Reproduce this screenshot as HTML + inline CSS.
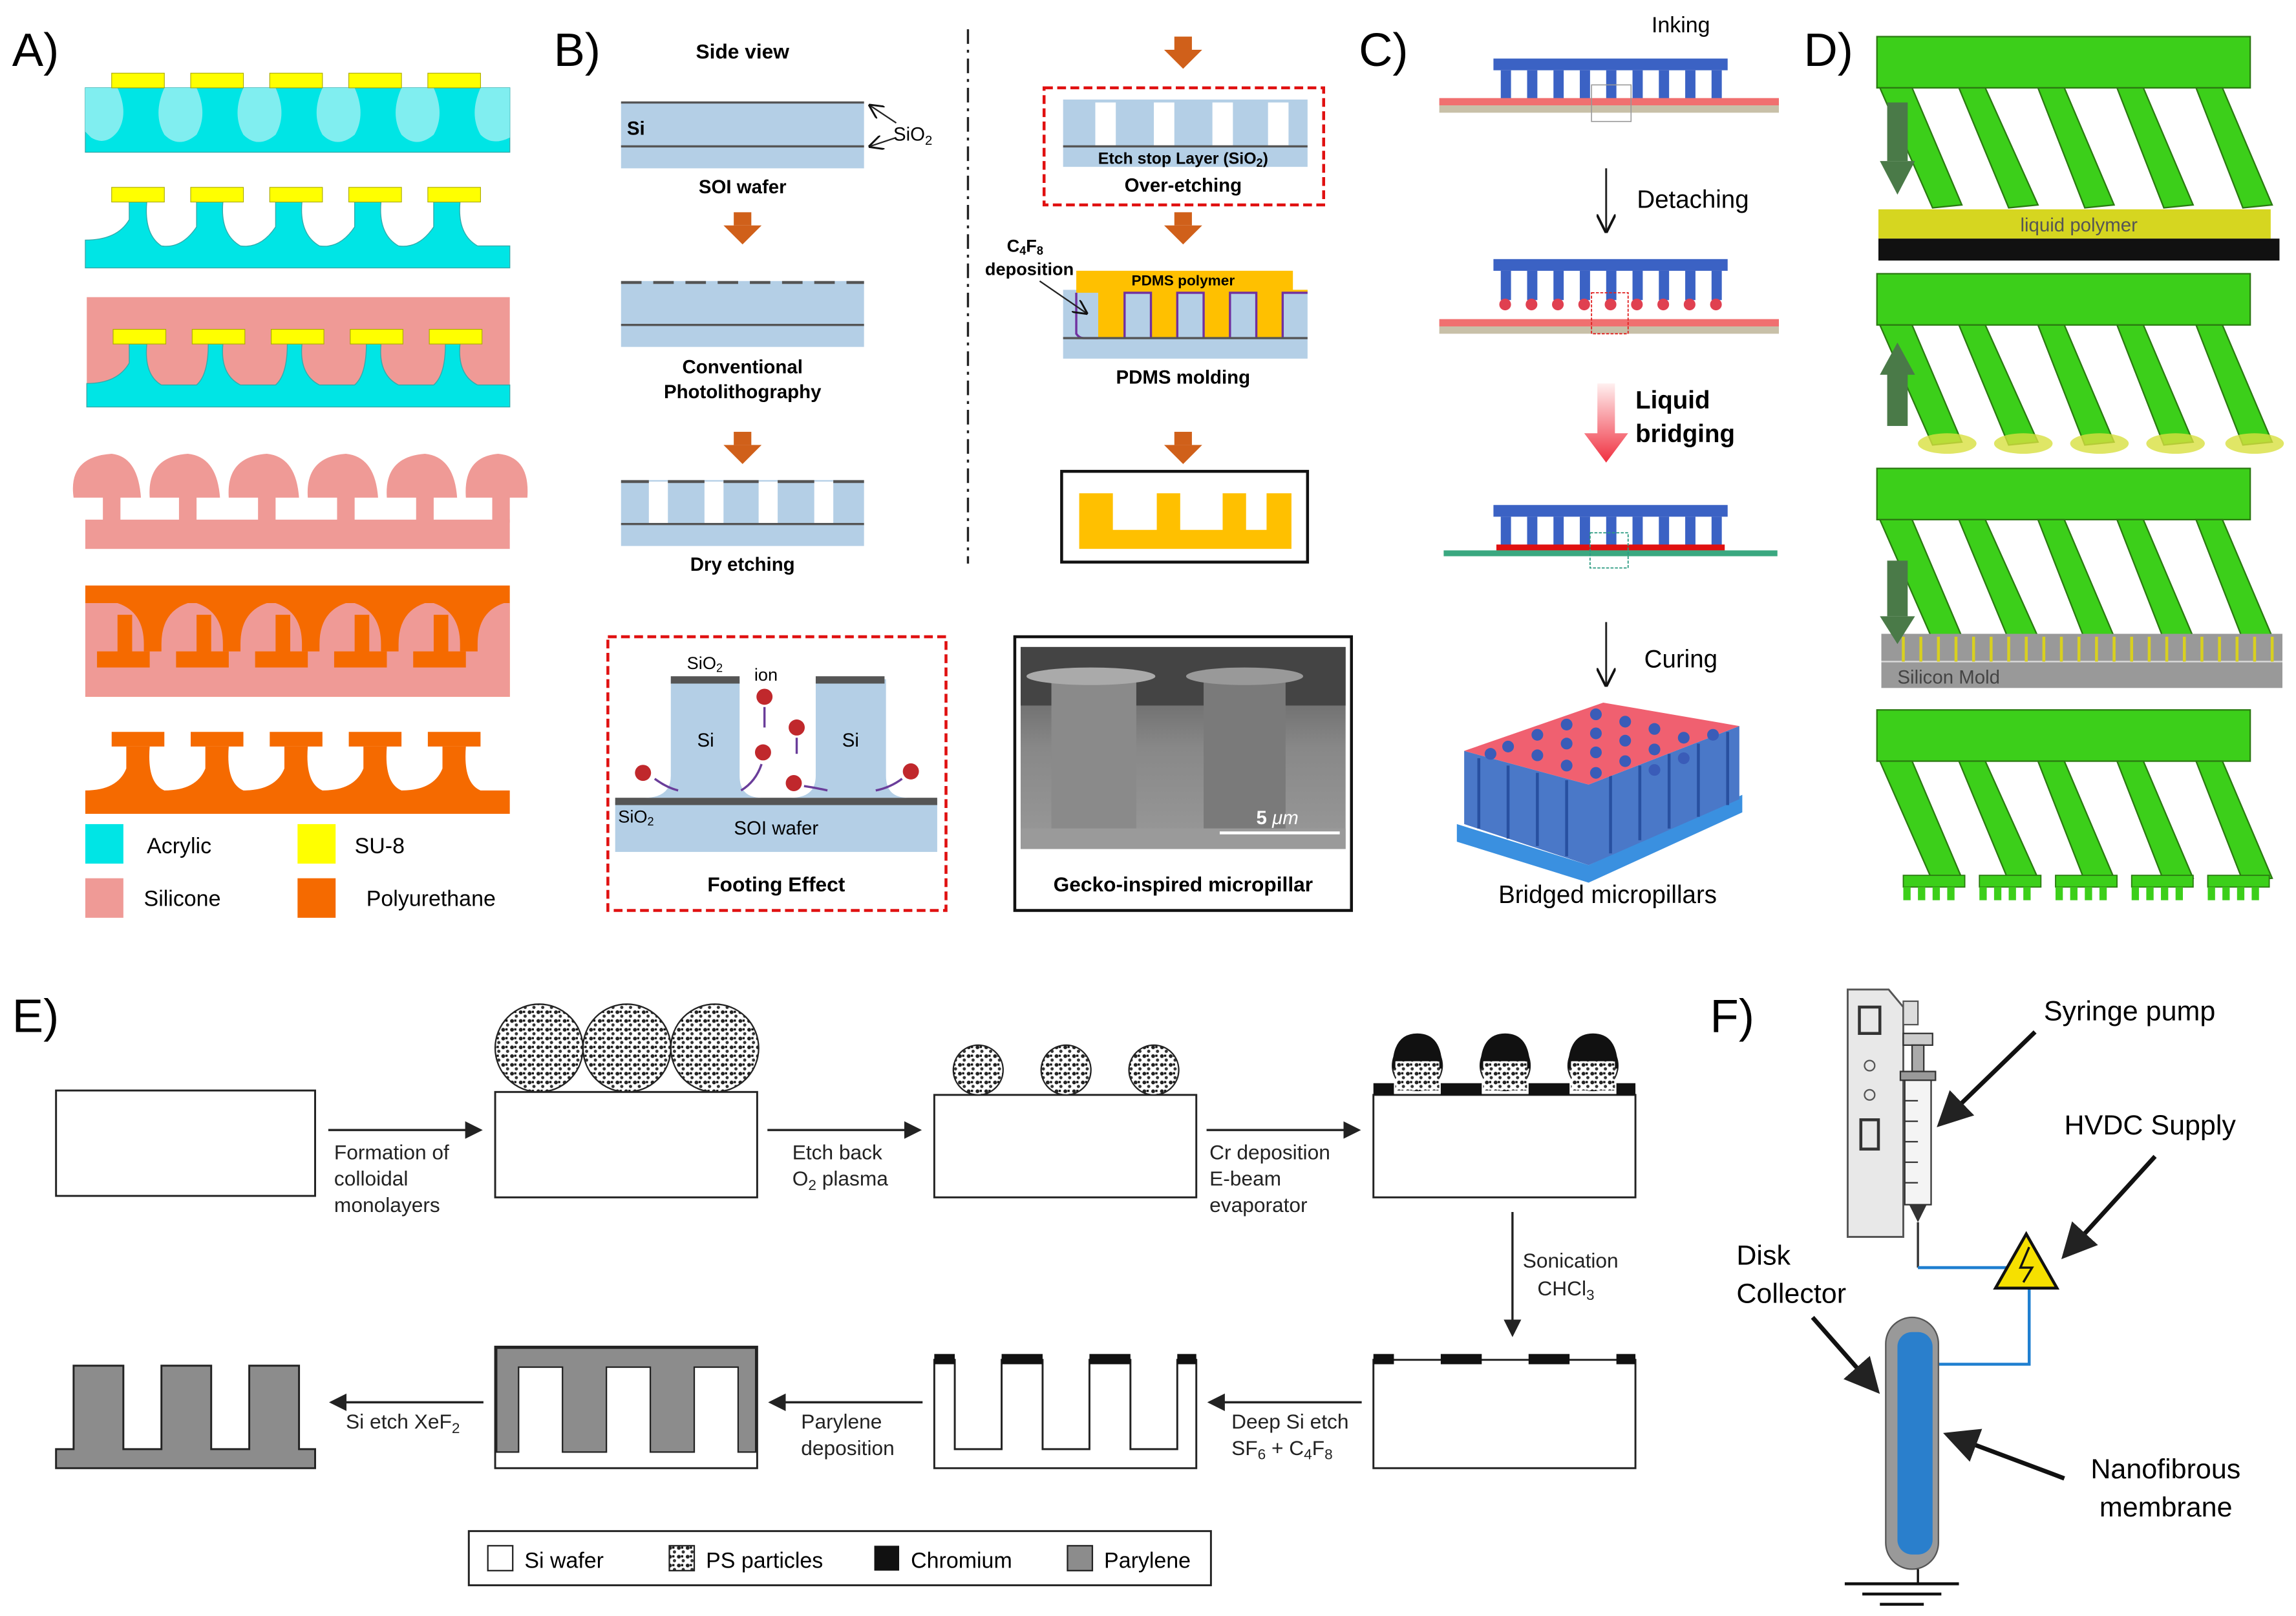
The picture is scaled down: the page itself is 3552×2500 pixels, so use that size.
<!DOCTYPE html>
<html><head><meta charset="utf-8"><style>
html,body{margin:0;padding:0;background:#fff;}
svg{display:block;}
text{font-family:"Liberation Sans",Arial,sans-serif;}
</style></head><body>
<svg width="3552" height="2500" viewBox="0 0 1568 1104" xmlns="http://www.w3.org/2000/svg">
<defs>
<pattern id="dots" width="6" height="6" patternUnits="userSpaceOnUse">
<rect width="6" height="6" fill="#fff"/><circle cx="1.5" cy="1.5" r="1.3" fill="#222"/><circle cx="4.5" cy="4.2" r="1.1" fill="#333"/><rect x="3" y="0.5" width="1.5" height="1.5" fill="#111"/>
</pattern>
<linearGradient id="redg" x1="0" y1="0" x2="0" y2="1"><stop offset="0" stop-color="#fff0f0"/><stop offset="1" stop-color="#f03040"/></linearGradient>
<linearGradient id="sem" x1="0" y1="0" x2="0" y2="1"><stop offset="0" stop-color="#555"/><stop offset="0.5" stop-color="#888"/><stop offset="1" stop-color="#999"/></linearGradient>
<marker id="ah" markerWidth="8" markerHeight="8" refX="7" refY="4" orient="auto"><path d="M0,0 L8,4 L0,8 z" fill="#222"/></marker>
<marker id="ao" markerWidth="10" markerHeight="10" refX="9" refY="5" orient="auto"><path d="M0,0 L10,5 L0,10" fill="none" stroke="#111" stroke-width="1.3"/></marker>
<g id="oarrow"><rect x="-6" y="-10" width="12" height="9" fill="#d0601a"/><path d="M-13,-1 L13,-1 L0,12 z" fill="#d0601a"/></g>
</defs>

<!-- ================= A ================= -->
<text x="8" y="45" font-size="32">A)</text>
<rect x="58" y="60" width="290" height="44" fill="#00e5e5" stroke="#3aa" stroke-width="0.6"/>
<g fill="#80eef0">
<path d="M80,60 Q88,78 80,90 Q72,100 62,94 L58,90 L58,60 z"/>
<path d="M112,60 Q104,78 112,92 Q122,102 134,92 Q142,78 134,60 z"/>
<path d="M166,60 Q158,78 166,92 Q176,102 188,92 Q196,78 188,60 z"/>
<path d="M220,60 Q212,78 220,92 Q230,102 242,92 Q250,78 242,60 z"/>
<path d="M274,60 Q266,78 274,92 Q284,102 296,92 Q304,78 296,60 z"/>
<path d="M328,60 Q320,78 328,92 Q336,100 348,94 L348,60 z"/>
</g>
<g fill="#ffff00" stroke="#aa0" stroke-width="0.5">
<rect x="76" y="50" width="36" height="10"/><rect x="130" y="50" width="36" height="10"/><rect x="184" y="50" width="36" height="10"/><rect x="238" y="50" width="36" height="10"/><rect x="292" y="50" width="36" height="10"/>
</g>
<path d="M58,183 L58,164 Q80,164 88,150 L88,138 L100,138 Q98,160 110,168 Q124,170 134,155 L134,138 L152,138 Q150,160 164,168 Q178,170 188,155 L188,138 L206,138 Q204,160 218,168 Q232,170 242,155 L242,138 L260,138 Q258,160 272,168 Q286,170 296,155 L296,138 L314,138 Q312,160 326,168 L348,168 L348,183 z" fill="#00e5e5" stroke="#3aa" stroke-width="0.6"/>
<g fill="#ffff00" stroke="#aa0" stroke-width="0.5">
<rect x="76" y="128" width="36" height="10"/><rect x="130" y="128" width="36" height="10"/><rect x="184" y="128" width="36" height="10"/><rect x="238" y="128" width="36" height="10"/><rect x="292" y="128" width="36" height="10"/>
</g>
<rect x="59" y="203" width="289" height="75" fill="#ef9a96"/>
<path d="M59,278 L59,262 Q80,262 88,248 L88,235 L100,235 Q98,256 110,263 L134,263 Q142,256 142,235 L152,235 Q150,256 164,263 L188,263 Q196,256 196,235 L206,235 Q204,256 218,263 L242,263 Q250,256 250,235 L260,235 Q258,256 272,263 L296,263 Q304,256 304,235 L314,235 Q312,256 326,263 L348,263 L348,278 z" fill="#00e5e5" stroke="#3aa" stroke-width="0.6"/>
<g fill="#ffff00" stroke="#aa0" stroke-width="0.5">
<rect x="77" y="225" width="36" height="10"/><rect x="131" y="225" width="36" height="10"/><rect x="185" y="225" width="36" height="10"/><rect x="239" y="225" width="36" height="10"/><rect x="293" y="225" width="36" height="10"/>
</g>
<g fill="#ef9a96">
<rect x="58" y="355" width="290" height="20"/>
<rect x="70" y="335" width="12" height="22"/><rect x="122" y="335" width="12" height="22"/><rect x="176" y="335" width="12" height="22"/><rect x="230" y="335" width="12" height="22"/><rect x="284" y="335" width="12" height="22"/><rect x="336" y="335" width="12" height="22"/>
<path d="M50,340 Q46,312 76,310 Q94,312 96,340 z"/>
<path d="M102,340 Q100,312 128,310 Q148,312 150,340 z"/>
<path d="M156,340 Q154,312 182,310 Q202,312 204,340 z"/>
<path d="M210,340 Q208,312 236,310 Q256,312 258,340 z"/>
<path d="M264,340 Q262,312 290,310 Q310,312 312,340 z"/>
<path d="M318,340 Q316,312 340,310 Q362,312 360,340 z"/>
</g>
<rect x="58" y="400" width="290" height="76" fill="#f56a00"/>
<path d="M58,412 L80,412 Q98,418 98,440 L98,445 L110,445 L110,440 Q110,418 128,412 L134,412 Q152,418 152,440 L152,445 L164,445 L164,440 Q164,418 182,412 L188,412 Q206,418 206,440 L206,445 L218,445 L218,440 Q218,418 236,412 L242,412 Q260,418 260,440 L260,445 L272,445 L272,440 Q272,418 290,412 L296,412 Q314,418 314,440 L314,445 L326,445 L326,440 Q326,418 344,412 L348,412 L348,476 L58,476 z" fill="#ef9a96"/>
<g fill="#f56a00"><rect x="66" y="445" width="36" height="11"/><rect x="120" y="445" width="36" height="11"/><rect x="174" y="445" width="36" height="11"/><rect x="228" y="445" width="36" height="11"/><rect x="282" y="445" width="36" height="11"/>
<rect x="80" y="420" width="10" height="28"/><rect x="134" y="420" width="10" height="28"/><rect x="188" y="420" width="10" height="28"/><rect x="242" y="420" width="10" height="28"/><rect x="296" y="420" width="10" height="28"/></g>
<path d="M58,556 L58,540 Q80,540 86,525 L86,510 L102,510 Q100,535 112,540 Q134,540 140,525 L140,510 L156,510 Q154,535 166,540 Q188,540 194,525 L194,510 L210,510 Q208,535 220,540 Q242,540 248,525 L248,510 L264,510 Q262,535 274,540 Q296,540 302,525 L302,510 L318,510 Q316,535 328,540 L348,540 L348,556 z" fill="#f56a00"/>
<g fill="#f56a00"><rect x="76" y="500" width="36" height="10"/><rect x="130" y="500" width="36" height="10"/><rect x="184" y="500" width="36" height="10"/><rect x="238" y="500" width="36" height="10"/><rect x="292" y="500" width="36" height="10"/></g>
<rect x="58" y="563" width="26" height="27" fill="#00e5e5"/><text x="100" y="583" font-size="15">Acrylic</text>
<rect x="203" y="563" width="26" height="27" fill="#ffff00"/><text x="242" y="583" font-size="15">SU-8</text>
<rect x="58" y="600" width="26" height="27" fill="#ef9a96"/><text x="98" y="619" font-size="15">Silicone</text>
<rect x="203" y="600" width="26" height="27" fill="#f56a00"/><text x="250" y="619" font-size="15">Polyurethane</text>

<!-- ================= B ================= -->
<text x="378" y="45" font-size="32">B)</text>
<text x="507" y="40" font-size="14" font-weight="bold" text-anchor="middle">Side view</text>
<rect x="424" y="70" width="166" height="45" fill="#b4cfe6"/>
<line x1="424" y1="70" x2="590" y2="70" stroke="#555" stroke-width="1.5"/>
<line x1="424" y1="100" x2="590" y2="100" stroke="#555" stroke-width="1.5"/>
<text x="428" y="92" font-size="13" font-weight="bold">Si</text>
<text x="610" y="96" font-size="13">SiO<tspan font-size="9" dy="3">2</tspan></text>
<line x1="612" y1="84" x2="594" y2="72" stroke="#222" marker-end="url(#ao)"/>
<line x1="612" y1="94" x2="594" y2="100" stroke="#222" marker-end="url(#ao)"/>
<text x="507" y="132" font-size="13" font-weight="bold" text-anchor="middle">SOI wafer</text>
<use href="#oarrow" x="507" y="155"/>
<rect x="424" y="192" width="166" height="45" fill="#b4cfe6"/>
<line x1="424" y1="222" x2="590" y2="222" stroke="#555" stroke-width="1.5"/>
<line x1="424" y1="193" x2="590" y2="193" stroke="#555" stroke-width="2" stroke-dasharray="14,8"/>
<text x="507" y="255" font-size="13" font-weight="bold" text-anchor="middle">Conventional</text>
<text x="507" y="272" font-size="13" font-weight="bold" text-anchor="middle">Photolithography</text>
<use href="#oarrow" x="507" y="305"/>
<rect x="424" y="328" width="166" height="45" fill="#b4cfe6"/>
<g fill="#fff"><rect x="443" y="329" width="13" height="29"/><rect x="481" y="329" width="13" height="29"/><rect x="518" y="329" width="13" height="29"/><rect x="556" y="329" width="13" height="29"/></g>
<line x1="424" y1="358" x2="590" y2="358" stroke="#555" stroke-width="1.5"/>
<g stroke="#555" stroke-width="2"><line x1="424" y1="329" x2="443" y2="329"/><line x1="456" y1="329" x2="481" y2="329"/><line x1="494" y1="329" x2="518" y2="329"/><line x1="531" y1="329" x2="556" y2="329"/><line x1="569" y1="329" x2="590" y2="329"/></g>
<text x="507" y="390" font-size="13" font-weight="bold" text-anchor="middle">Dry etching</text>
<line x1="661" y1="20" x2="661" y2="385" stroke="#222" stroke-width="1.5" stroke-dasharray="10,4,2,4"/>
<use href="#oarrow" x="808" y="35"/>
<rect x="713" y="60" width="191" height="80" fill="none" stroke="#e01010" stroke-width="2" stroke-dasharray="6,3"/>
<rect x="726" y="68" width="167" height="46" fill="#b4cfe6"/>
<g fill="#fff"><rect x="748" y="70" width="14" height="30"/><rect x="788" y="70" width="14" height="30"/><rect x="828" y="70" width="14" height="30"/><rect x="866" y="70" width="14" height="30"/></g>
<line x1="726" y1="100" x2="893" y2="100" stroke="#555" stroke-width="1.5"/>
<text x="808" y="112" font-size="11" font-weight="bold" text-anchor="middle">Etch stop Layer (SiO<tspan font-size="8" dy="2">2</tspan><tspan dy="-2">)</tspan></text>
<text x="808" y="131" font-size="13" font-weight="bold" text-anchor="middle">Over-etching</text>
<use href="#oarrow" x="808" y="155"/>
<rect x="726" y="198" width="167" height="47" fill="#b4cfe6"/>
<path d="M735,185 L883,185 L883,198 L893,198 L893,200 L876,200 L876,228 Q876,231 872,231 L858,231 L858,200 L840,200 L840,228 Q840,231 836,231 L822,231 L822,200 L804,200 L804,228 Q804,231 800,231 L786,231 L786,200 L768,200 L768,228 Q768,231 764,231 L750,231 L750,200 L735,200 z" fill="#ffc000"/>
<path d="M735,200 L735,228 Q737,231 740,231 L750,231 M768,231 L768,200 L786,200 L786,231 M804,231 L804,200 L822,200 L822,231 M840,231 L840,200 L858,200 L858,231 M876,231 L876,200 L893,200" fill="none" stroke="#7030a0" stroke-width="1.5"/>
<line x1="726" y1="231" x2="893" y2="231" stroke="#555" stroke-width="1.5"/>
<text x="808" y="195" font-size="10" font-weight="bold" text-anchor="middle">PDMS polymer</text>
<text x="700" y="172" font-size="12" font-weight="bold" text-anchor="middle">C<tspan font-size="8" dy="2">4</tspan><tspan dy="-2">F</tspan><tspan font-size="8" dy="2">8</tspan></text>
<text x="703" y="188" font-size="12" font-weight="bold" text-anchor="middle">deposition</text>
<line x1="710" y1="192" x2="742" y2="214" stroke="#222" marker-end="url(#ao)"/>
<text x="808" y="262" font-size="13" font-weight="bold" text-anchor="middle">PDMS molding</text>
<use href="#oarrow" x="808" y="305"/>
<rect x="725" y="322" width="168" height="62" fill="none" stroke="#111" stroke-width="2"/>
<path d="M737,337 L760,337 L760,362 L790,362 L790,337 L806,337 L806,362 L835,362 L835,337 L851,337 L851,362 L865,362 L865,337 L882,337 L882,375 L737,375 z" fill="#ffc000"/>
<rect x="415" y="435" width="231" height="187" fill="none" stroke="#e01010" stroke-width="2" stroke-dasharray="6,3"/>
<rect x="420" y="548" width="220" height="34" fill="#b4cfe6"/>
<rect x="420" y="545" width="220" height="5" fill="#555"/>
<path d="M458,464 L505,464 L505,530 Q505,545 520,545 L440,545 Q458,545 458,530 z" fill="#b4cfe6"/>
<path d="M557,464 L605,464 L605,530 Q605,545 620,545 L540,545 Q557,545 557,530 z" fill="#b4cfe6"/>
<rect x="458" y="462" width="47" height="5" fill="#555"/><rect x="557" y="462" width="47" height="5" fill="#555"/>
<text x="469" y="457" font-size="12">SiO<tspan font-size="8" dy="2">2</tspan></text>
<text x="515" y="465" font-size="12">ion</text>
<text x="476" y="510" font-size="13">Si</text><text x="575" y="510" font-size="13">Si</text>
<text x="422" y="562" font-size="12">SiO<tspan font-size="8" dy="2">2</tspan></text>
<text x="530" y="570" font-size="13" text-anchor="middle">SOI wafer</text>
<g fill="#c0282c"><circle cx="522" cy="476" r="5.5"/><circle cx="544" cy="497" r="5.5"/><circle cx="521" cy="514" r="5.5"/><circle cx="542" cy="535" r="5.5"/><circle cx="439" cy="528" r="5.5"/><circle cx="622" cy="527" r="5.5"/></g>
<g stroke="#6a3d9a" stroke-width="1.5" fill="none"><line x1="522" y1="483" x2="522" y2="497"/><line x1="544" y1="504" x2="544" y2="515"/><path d="M447,532 Q455,538 463,540"/><path d="M520,522 Q516,534 506,540"/><path d="M549,537 Q556,538 565,540"/><path d="M616,532 Q608,538 598,540"/></g>
<text x="530" y="609" font-size="14" font-weight="bold" text-anchor="middle">Footing Effect</text>
<rect x="693" y="435" width="230" height="187" fill="none" stroke="#111" stroke-width="2"/>
<rect x="697" y="442" width="222" height="138" fill="url(#sem)"/>
<rect x="697" y="442" width="222" height="40" fill="#444"/>
<rect x="718" y="464" width="58" height="102" fill="#8a8a8a"/>
<rect x="822" y="464" width="56" height="102" fill="#7a7a7a"/>
<ellipse cx="745" cy="462" rx="44" ry="6" fill="#aaa"/><ellipse cx="850" cy="462" rx="40" ry="6" fill="#999"/>
<rect x="697" y="566" width="222" height="14" fill="#9a9a9a"/>
<line x1="833" y1="569" x2="915" y2="569" stroke="#fff" stroke-width="2"/>
<text x="858" y="563" font-size="13" fill="#fff" font-weight="bold">5 <tspan font-style="italic" font-weight="normal">μm</tspan></text>
<text x="808" y="609" font-size="14" font-weight="bold" text-anchor="middle">Gecko-inspired micropillar</text>

<!-- ================= C ================= -->
<text x="928" y="45" font-size="32">C)</text>
<text x="1148" y="22" font-size="15" text-anchor="middle">Inking</text>
<g id="stamp1">
<rect x="1020" y="40" width="160" height="8" fill="#3b62c4"/>
<g fill="#3b62c4"><rect x="1025" y="48" width="7" height="20"/><rect x="1043" y="48" width="7" height="20"/><rect x="1061" y="48" width="7" height="20"/><rect x="1079" y="48" width="7" height="20"/><rect x="1097" y="48" width="7" height="20"/><rect x="1115" y="48" width="7" height="20"/><rect x="1133" y="48" width="7" height="20"/><rect x="1151" y="48" width="7" height="20"/><rect x="1169" y="48" width="7" height="20"/></g>
</g>
<rect x="983" y="67" width="232" height="5" fill="#f07070"/><rect x="983" y="72" width="232" height="5" fill="#c8c0a8"/>
<rect x="1087" y="58" width="27" height="25" fill="none" stroke="#999" stroke-width="0.7"/>
<line x1="1097" y1="115" x2="1097" y2="158" stroke="#222" stroke-width="1.3" marker-end="url(#ao)"/>
<text x="1118" y="142" font-size="17">Detaching</text>
<use href="#stamp1" y="137"/>
<g fill="#e04050"><circle cx="1028" cy="208" r="4"/><circle cx="1046" cy="208" r="4"/><circle cx="1064" cy="208" r="4"/><circle cx="1082" cy="208" r="4"/><circle cx="1100" cy="208" r="4"/><circle cx="1118" cy="208" r="4"/><circle cx="1136" cy="208" r="4"/><circle cx="1154" cy="208" r="4"/><circle cx="1172" cy="208" r="4"/></g>
<rect x="983" y="218" width="232" height="5" fill="#f07070"/><rect x="983" y="223" width="232" height="5" fill="#c8c0a8"/>
<rect x="1087" y="200" width="25" height="28" fill="none" stroke="#e02020" stroke-width="0.8" stroke-dasharray="2,1"/>
<path d="M1091,262 L1103,262 L1103,296 L1112,296 L1097,316 L1082,296 L1091,296 z" fill="url(#redg)"/>
<text x="1117" y="279" font-size="17" font-weight="bold">Liquid</text>
<text x="1117" y="302" font-size="17" font-weight="bold">bridging</text>
<use href="#stamp1" y="305"/>
<rect x="1022" y="372" width="156" height="4" fill="#e01010"/>
<rect x="986" y="376" width="228" height="4" fill="#3aa880"/>
<rect x="1086" y="364" width="26" height="24" fill="none" stroke="#2a9a80" stroke-width="0.8" stroke-dasharray="2,1"/>
<line x1="1097" y1="425" x2="1097" y2="468" stroke="#222" stroke-width="1.3" marker-end="url(#ao)"/>
<text x="1123" y="456" font-size="17">Curing</text>
<g transform="translate(0,18)">
<path d="M995,545 L1085,573 L1190,525 L1190,537 L1085,585 L995,557 z" fill="#3a90e0"/>
<path d="M1000,495 L1085,518 L1188,478 L1188,528 L1085,573 L1000,545 z" fill="#4a78c8"/>
<g stroke="#2850a0" stroke-width="2"><line x1="1010" y1="500" x2="1010" y2="548"/><line x1="1030" y1="505" x2="1030" y2="555"/><line x1="1050" y1="510" x2="1050" y2="560"/><line x1="1070" y1="515" x2="1070" y2="567"/><line x1="1100" y1="512" x2="1100" y2="565"/><line x1="1120" y1="505" x2="1120" y2="556"/><line x1="1140" y1="497" x2="1140" y2="548"/><line x1="1160" y1="490" x2="1160" y2="540"/><line x1="1180" y1="482" x2="1180" y2="532"/></g>
<path d="M1000,495 L1095,462 L1188,478 L1085,518 z" fill="#f06070"/>
<g fill="#3a5cb8">
<circle cx="1030" cy="492" r="4"/><circle cx="1050" cy="484" r="4"/><circle cx="1070" cy="477" r="4"/><circle cx="1090" cy="470" r="4"/>
<circle cx="1050" cy="498" r="4"/><circle cx="1070" cy="490" r="4"/><circle cx="1090" cy="483" r="4"/><circle cx="1110" cy="475" r="4"/>
<circle cx="1070" cy="505" r="4"/><circle cx="1090" cy="496" r="4"/><circle cx="1110" cy="488" r="4"/><circle cx="1130" cy="480" r="4"/>
<circle cx="1090" cy="510" r="4"/><circle cx="1110" cy="502" r="4"/><circle cx="1130" cy="494" r="4"/><circle cx="1150" cy="486" r="4"/>
<circle cx="1130" cy="508" r="4"/><circle cx="1150" cy="500" r="4"/><circle cx="1170" cy="484" r="4"/><circle cx="1018" cy="497" r="4"/>
</g>
</g>
<text x="1098" y="617" font-size="17" text-anchor="middle">Bridged micropillars</text>

<!-- ================= D ================= -->
<text x="1232" y="45" font-size="32">D)</text>
<g id="dpanel">
<rect x="1282" y="25" width="255" height="35" fill="#3ccf1a" stroke="#2a7a10" stroke-width="1"/>
<g fill="#3ccf1a" stroke="#2a7a10" stroke-width="1">
<path d="M1284,60 L1306,60 L1340,140 L1320,142 z"/>
<path d="M1338,60 L1356,60 L1392,140 L1372,142 z"/>
<path d="M1392,60 L1410,60 L1444,140 L1424,142 z"/>
<path d="M1446,60 L1464,60 L1498,140 L1478,142 z"/>
<path d="M1500,60 L1518,60 L1552,140 L1532,142 z"/>
</g>
</g>
<rect x="1289" y="70" width="14" height="40" fill="#4a7a48"/><path d="M1284,110 L1308,110 L1296,133 z" fill="#4a7a48"/>
<rect x="1283" y="143" width="268" height="20" fill="#d6d620"/>
<text x="1420" y="158" font-size="13" fill="#555" text-anchor="middle">liquid polymer</text>
<rect x="1283" y="163" width="274" height="15" fill="#111"/>
<use href="#dpanel" y="162"/>
<g fill="#d8e040" opacity="0.8"><ellipse cx="1330" cy="303" rx="20" ry="7"/><ellipse cx="1382" cy="303" rx="20" ry="7"/><ellipse cx="1434" cy="303" rx="20" ry="7"/><ellipse cx="1486" cy="303" rx="20" ry="7"/><ellipse cx="1540" cy="303" rx="20" ry="7"/></g>
<rect x="1289" y="255" width="14" height="36" fill="#4a7a48"/><path d="M1284,256 L1308,256 L1296,234 z" fill="#4a7a48"/>
<use href="#dpanel" y="295"/>
<rect x="1285" y="433" width="274" height="37" fill="#999"/>
<line x1="1285" y1="452" x2="1559" y2="452" stroke="#ddd"/>
<g stroke="#d8d020" stroke-width="2">
<line x1="1300" y1="435" x2="1300" y2="452"/><line x1="1312" y1="435" x2="1312" y2="452"/><line x1="1324" y1="435" x2="1324" y2="452"/><line x1="1336" y1="435" x2="1336" y2="452"/><line x1="1348" y1="435" x2="1348" y2="452"/><line x1="1360" y1="435" x2="1360" y2="452"/><line x1="1372" y1="435" x2="1372" y2="452"/><line x1="1384" y1="435" x2="1384" y2="452"/><line x1="1396" y1="435" x2="1396" y2="452"/><line x1="1408" y1="435" x2="1408" y2="452"/><line x1="1420" y1="435" x2="1420" y2="452"/><line x1="1432" y1="435" x2="1432" y2="452"/><line x1="1444" y1="435" x2="1444" y2="452"/><line x1="1456" y1="435" x2="1456" y2="452"/><line x1="1468" y1="435" x2="1468" y2="452"/><line x1="1480" y1="435" x2="1480" y2="452"/><line x1="1492" y1="435" x2="1492" y2="452"/><line x1="1504" y1="435" x2="1504" y2="452"/><line x1="1516" y1="435" x2="1516" y2="452"/><line x1="1528" y1="435" x2="1528" y2="452"/><line x1="1540" y1="435" x2="1540" y2="452"/><line x1="1552" y1="435" x2="1552" y2="452"/>
</g>
<text x="1296" y="467" font-size="13" fill="#444">Silicon Mold</text>
<rect x="1289" y="383" width="14" height="38" fill="#4a7a48"/><path d="M1284,421 L1308,421 L1296,440 z" fill="#4a7a48"/>
<use href="#dpanel" y="460"/>
<g fill="#3ccf1a" stroke="#2a7a10" stroke-width="0.8"><rect x="1300" y="598" width="42" height="8"/><rect x="1352" y="598" width="42" height="8"/><rect x="1404" y="598" width="42" height="8"/><rect x="1456" y="598" width="42" height="8"/><rect x="1508" y="598" width="42" height="8"/></g>
<g fill="#3ccf1a"><rect x="1300" y="606" width="5" height="9"/><rect x="1310" y="606" width="5" height="9"/><rect x="1320" y="606" width="5" height="9"/><rect x="1330" y="606" width="5" height="9"/><rect x="1352" y="606" width="5" height="9"/><rect x="1362" y="606" width="5" height="9"/><rect x="1372" y="606" width="5" height="9"/><rect x="1382" y="606" width="5" height="9"/><rect x="1404" y="606" width="5" height="9"/><rect x="1414" y="606" width="5" height="9"/><rect x="1424" y="606" width="5" height="9"/><rect x="1434" y="606" width="5" height="9"/><rect x="1456" y="606" width="5" height="9"/><rect x="1466" y="606" width="5" height="9"/><rect x="1476" y="606" width="5" height="9"/><rect x="1486" y="606" width="5" height="9"/><rect x="1508" y="606" width="5" height="9"/><rect x="1518" y="606" width="5" height="9"/><rect x="1528" y="606" width="5" height="9"/><rect x="1538" y="606" width="5" height="9"/></g>

<!-- ================= E ================= -->
<text x="8" y="705" font-size="32">E)</text>
<g fill="#fff" stroke="#222" stroke-width="1.3">
<rect x="38" y="745" width="177" height="72"/>
<rect x="338" y="746" width="179" height="72"/>
<rect x="638" y="748" width="179" height="70"/>
<rect x="938" y="748" width="179" height="70"/>
</g>
<g fill="url(#dots)" stroke="#222" stroke-width="1">
<circle cx="368" cy="716" r="30"/><circle cx="428" cy="716" r="30"/><circle cx="488" cy="716" r="30"/>
<circle cx="668" cy="731" r="17"/><circle cx="728" cy="731" r="17"/><circle cx="788" cy="731" r="17"/>
<circle cx="968" cy="728" r="17"/><circle cx="1028" cy="728" r="17"/><circle cx="1088" cy="728" r="17"/>
</g>
<g fill="#111"><rect x="938" y="740" width="14" height="8"/><rect x="984" y="740" width="28" height="8"/><rect x="1044" y="740" width="28" height="8"/><rect x="1104" y="740" width="13" height="8"/>
<path d="M951,730 Q951,706 968,706 Q985,706 985,730 z"/><path d="M1011,730 Q1011,706 1028,706 Q1045,706 1045,730 z"/><path d="M1071,730 Q1071,706 1088,706 Q1105,706 1105,730 z"/></g>
<g fill="url(#dots)"><rect x="953" y="725" width="30" height="20"/><rect x="1013" y="725" width="30" height="20"/><rect x="1073" y="725" width="30" height="20"/></g>
<g stroke="#222" stroke-width="1.5">
<line x1="224" y1="772" x2="328" y2="772" marker-end="url(#ah)"/>
<line x1="524" y1="772" x2="628" y2="772" marker-end="url(#ah)"/>
<line x1="824" y1="772" x2="928" y2="772" marker-end="url(#ah)"/>
<line x1="1033" y1="828" x2="1033" y2="912" marker-end="url(#ah)"/>
<line x1="930" y1="958" x2="826" y2="958" marker-end="url(#ah)"/>
<line x1="630" y1="958" x2="526" y2="958" marker-end="url(#ah)"/>
<line x1="330" y1="958" x2="226" y2="958" marker-end="url(#ah)"/>
</g>
<g font-size="14" fill="#222">
<text x="228" y="792">Formation of</text><text x="228" y="810">colloidal</text><text x="228" y="828">monolayers</text>
<text x="541" y="792">Etch back</text><text x="541" y="810">O<tspan font-size="10" dy="3">2</tspan><tspan dy="-3"> plasma</tspan></text>
<text x="826" y="792">Cr deposition</text><text x="826" y="810">E-beam</text><text x="826" y="828">evaporator</text>
<text x="1040" y="866">Sonication</text><text x="1050" y="885">CHCl<tspan font-size="10" dy="3">3</tspan></text>
<text x="841" y="976">Deep Si etch</text><text x="841" y="994">SF<tspan font-size="10" dy="3">6</tspan><tspan dy="-3"> + C</tspan><tspan font-size="10" dy="3">4</tspan><tspan dy="-3">F</tspan><tspan font-size="10" dy="3">8</tspan></text>
<text x="547" y="976">Parylene</text><text x="547" y="994">deposition</text>
<text x="236" y="976">Si etch XeF<tspan font-size="10" dy="3">2</tspan></text>
</g>
<rect x="938" y="929" width="179" height="74" fill="#fff" stroke="#222" stroke-width="1.3"/>
<g fill="#111"><rect x="938" y="925" width="14" height="7"/><rect x="984" y="925" width="28" height="7"/><rect x="1044" y="925" width="28" height="7"/><rect x="1104" y="925" width="13" height="7"/></g>
<path d="M638,929 L652,929 L652,990 L684,990 L684,929 L712,929 L712,990 L744,990 L744,929 L772,929 L772,990 L804,990 L804,929 L817,929 L817,1003 L638,1003 z" fill="#fff" stroke="#222" stroke-width="1.3"/>
<g fill="#111"><rect x="638" y="925" width="14" height="7"/><rect x="684" y="925" width="28" height="7"/><rect x="744" y="925" width="28" height="7"/><rect x="804" y="925" width="13" height="7"/></g>
<rect x="338" y="920" width="179" height="83" fill="#fff" stroke="#222" stroke-width="1.3"/>
<path d="M339,921 L516,921 L516,992 L504,992 L504,934 L474,934 L474,992 L444,992 L444,934 L414,934 L414,992 L384,992 L384,934 L354,934 L354,992 L339,992 z" fill="#8c8c8c" stroke="#222"/>
<path d="M38,1003 L38,990 L50,990 L50,933 L84,933 L84,990 L110,990 L110,933 L144,933 L144,990 L170,990 L170,933 L204,933 L204,990 L215,990 L215,1003 z" fill="#8c8c8c" stroke="#222" stroke-width="1.3"/>
<rect x="320" y="1046" width="507" height="37" fill="#fff" stroke="#222" stroke-width="1.3"/>
<rect x="333" y="1056" width="17" height="17" fill="#fff" stroke="#222"/><text x="358" y="1071" font-size="15">Si wafer</text>
<rect x="457" y="1056" width="17" height="17" fill="url(#dots)" stroke="#222"/><text x="482" y="1071" font-size="15">PS particles</text>
<rect x="597" y="1056" width="17" height="17" fill="#111"/><text x="622" y="1071" font-size="15">Chromium</text>
<rect x="729" y="1056" width="17" height="17" fill="#8c8c8c" stroke="#222"/><text x="754" y="1071" font-size="15">Parylene</text>

<!-- ================= F ================= -->
<text x="1168" y="705" font-size="32">F)</text>
<path d="M1262,676 L1290,676 L1300,688 L1300,845 L1262,845 z" fill="#e8e8e8" stroke="#555" stroke-width="1.3"/>
<rect x="1270" y="688" width="14" height="18" fill="none" stroke="#333" stroke-width="2"/>
<circle cx="1277" cy="728" r="3.5" fill="none" stroke="#555"/><circle cx="1277" cy="748" r="3.5" fill="none" stroke="#555"/>
<rect x="1271" y="765" width="12" height="20" fill="none" stroke="#333" stroke-width="2"/>
<rect x="1300" y="684" width="10" height="16" fill="#ddd" stroke="#555"/>
<rect x="1300" y="706" width="20" height="8" fill="#ccc" stroke="#333"/>
<rect x="1306" y="714" width="8" height="18" fill="#aaa" stroke="#333"/>
<rect x="1298" y="732" width="24" height="6" fill="#999" stroke="#333"/>
<rect x="1301" y="738" width="18" height="85" fill="#f4f4f4" stroke="#333"/>
<g stroke="#333"><line x1="1301" y1="752" x2="1310" y2="752"/><line x1="1301" y1="766" x2="1310" y2="766"/><line x1="1301" y1="780" x2="1310" y2="780"/><line x1="1301" y1="794" x2="1310" y2="794"/><line x1="1301" y1="808" x2="1310" y2="808"/></g>
<path d="M1304,823 L1316,823 L1310,835 z" fill="#333"/>
<line x1="1310" y1="835" x2="1310" y2="866" stroke="#333" stroke-width="1.5"/>
<path d="M1310,866 L1372,866 M1386,880 L1386,932 L1318,932" fill="none" stroke="#1f7fd0" stroke-width="2"/>
<path d="M1384,843 L1405,880 L1363,880 z" fill="#f6e000" stroke="#111" stroke-width="2"/>
<path d="M1386,852 L1380,866 L1388,866 L1382,876" fill="none" stroke="#111" stroke-width="1.5"/>
<rect x="1288" y="900" width="36" height="172" rx="18" fill="#999" stroke="#555"/>
<rect x="1296" y="910" width="24" height="152" rx="10" fill="#2a7fcc"/>
<line x1="1310" y1="1072" x2="1310" y2="1082" stroke="#111" stroke-width="1.5"/>
<line x1="1260" y1="1082" x2="1338" y2="1082" stroke="#111" stroke-width="2"/>
<line x1="1272" y1="1089" x2="1326" y2="1089" stroke="#111" stroke-width="2"/>
<line x1="1284" y1="1096" x2="1314" y2="1096" stroke="#111" stroke-width="2"/>
<g stroke="#111" stroke-width="3" fill="none">
<line x1="1390" y1="705" x2="1325" y2="768" marker-end="url(#ah)"/>
<line x1="1472" y1="790" x2="1410" y2="858" marker-end="url(#ah)"/>
<line x1="1238" y1="900" x2="1282" y2="950" marker-end="url(#ah)"/>
<line x1="1410" y1="1010" x2="1330" y2="980" marker-end="url(#ah)"/>
</g>
<g font-size="19">
<text x="1396" y="697" font-family="Liberation Serif,serif">Syringe pump</text>
<text x="1410" y="775" font-family="Liberation Serif,serif">HVDC Supply</text>
<text x="1186" y="864" font-family="Liberation Serif,serif">Disk</text>
<text x="1186" y="890" font-family="Liberation Serif,serif">Collector</text>
<text x="1428" y="1010" font-family="Liberation Serif,serif">Nanofibrous</text>
<text x="1434" y="1036" font-family="Liberation Serif,serif">membrane</text>
</g>
</svg>
</body></html>
